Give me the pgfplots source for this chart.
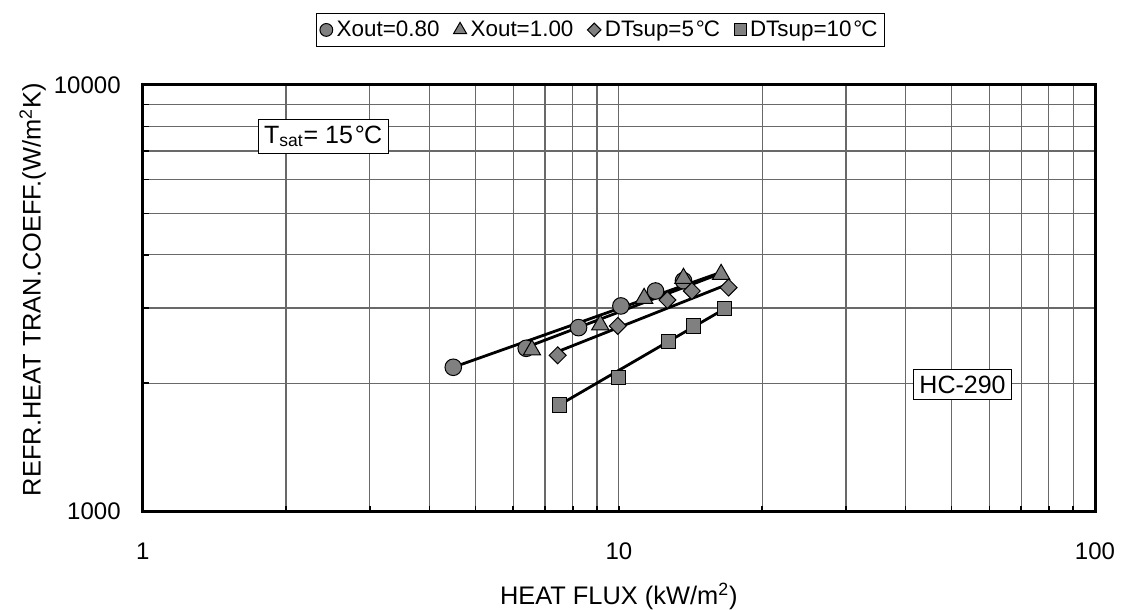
\documentclass[border=0pt]{standalone}
\usepackage{fontspec}
\setmainfont{Liberation Sans}
\usepackage{pgfplots}
\pgfplotsset{compat=1.18}
\newcommand{\dC}{\kern0.08em°\kern-0.04em C}
\definecolor{mk}{RGB}{128,128,128}
\definecolor{gr}{RGB}{105,105,105}
\begin{document}
\begin{tikzpicture}
\begin{axis}[
 name=ax, scale only axis, width=476.15pt, height=213.35pt,
 xmode=log, ymode=log, xmin=1, xmax=100, ymin=1000, ymax=10000,
 xtick={1,10,100}, xticklabels={1,10,100},
 ytick={1000,10000}, yticklabels={1000,10000},
 minor xtick={2,3,4,5,6,7,8,9,20,30,40,50,60,70,80,90},
 minor ytick={2000,3000,4000,5000,6000,7000,8000,9000},
 grid=both,
 major grid style={gr, line width=0.6pt},
 minor grid style={gr, line width=0.6pt},
 axis line style={black, line width=1.5pt},
 tick pos=left, tick align=inside,
 major tick length=3pt, minor tick length=3pt,
 tick style={black, line width=0.8pt},
 ticklabel style={font=\fontsize{12}{14}\selectfont},
 /pgf/number format/assume math mode=true,
 xticklabel style={yshift=-12pt},
 yticklabel style={xshift=-7.5pt},
 xlabel={HEAT FLUX (kW/m\textsuperscript{2})},
 ylabel={REFR.HEAT TRAN.COEFF.(W/m\textsuperscript{2}K)},
 xlabel style={at={(axis description cs:0.5,-0.199)}, anchor=center, font=\fontsize{12.7}{14}\selectfont},
 ylabel style={at={(axis description cs:-0.1155,0.52)}, anchor=center, font=\fontsize{12.7}{14}\selectfont},
 legend style={at={(0.481,1.129)}, anchor=center, legend columns=-1, draw=black, line width=0.5pt,
   font=\fontsize{11.2}{13}\selectfont, inner sep=1.5pt,
   /tikz/every even column/.append style={column sep=5pt}},
 legend cell align=left,
]
\addplot[only marks, mark=*, mark size=4.15pt, mark options={fill=mk, draw=black, line width=0.5pt},
  legend image post style={mark size=3.2pt}]
  coordinates {(4.49,2180) (6.39,2415) (8.23,2700) (10.1,3035) (11.94,3290) (13.67,3478)};
\addlegendentry{Xout=0.80}
\addplot[only marks, mark=triangle*, mark size=5pt, mark options={fill=mk, draw=black, line width=0.5pt},
  legend image post style={mark size=3.8pt}]
  coordinates {(6.57,2393) (9.14,2739) (11.3,3163) (13.67,3524) (16.4,3600)};
\addlegendentry{Xout=1.00}
\addplot[only marks, mark=square*, mark size=3pt, mark options={fill=mk, draw=black, line width=0.5pt, rotate=45},
  legend image post style={mark size=2.4pt}]
  coordinates {(7.44,2325) (9.95,2725) (12.65,3134) (14.23,3290) (17.0,3352)};
\addlegendentry{DTsup=5\dC}
\addplot[only marks, mark=square*, mark size=3.6pt, mark options={fill=mk, draw=black, line width=0.5pt},
  legend image post style={mark size=3pt}]
  coordinates {(7.5,1779) (9.98,2065) (12.7,2505) (14.35,2725) (16.65,2997)};
\addlegendentry{DTsup=10\dC}
\addplot[black, line width=1.4pt, forget plot] coordinates {(4.49,2180) (16.4,3640)};
\addplot[black, line width=1.4pt, forget plot] coordinates {(6.4,2430) (16.4,3620)};
\addplot[black, line width=1.4pt, forget plot] coordinates {(7.5,2380) (16.8,3400)};
\addplot[black, line width=1.4pt, forget plot] coordinates {(7.5,1779) (16.65,2985)};
\node[draw=black, fill=white, line width=0.5pt, inner sep=3pt, font=\fontsize{12.5}{14}\selectfont]
  at (axis cs:2.392,7574) {T\textsubscript{sat}= 15\dC};
\node[draw=black, fill=white, line width=0.5pt, inner sep=3pt, font=\fontsize{12.5}{14}\selectfont]
  at (axis cs:52.7,1987) {HC-290};
\end{axis}
\pgfresetboundingbox
\path[use as bounding box] ([xshift=-71.35pt,yshift=-49.15pt]ax.south west) rectangle ([xshift=13.5pt,yshift=42.5pt]ax.north east);
\end{tikzpicture}
\end{document}
